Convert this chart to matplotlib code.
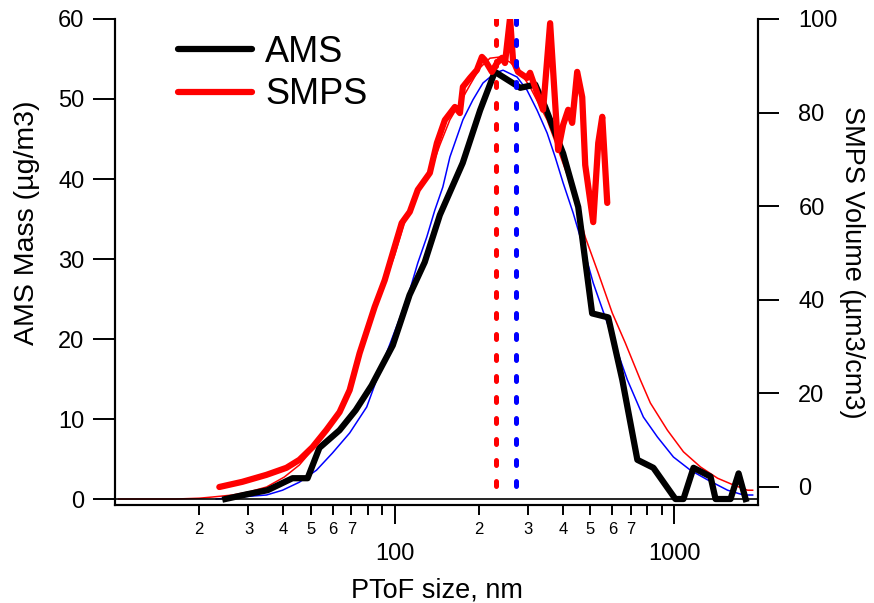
import numpy as np
import matplotlib
matplotlib.use("Agg")
from matplotlib import pyplot as plt
from matplotlib.ticker import FixedLocator, FixedFormatter

plt.rcParams['font.family'] = ['Liberation Sans', 'DejaVu Sans']

# AMS mass distribution (left axis)
ams_size = [24.8, 29.7, 35.1, 43.1, 48.8, 53.8, 63.5, 72.5, 82.7, 98.4, 113, 128, 145, 175, 202,
            228, 281, 318, 345, 400, 453, 508, 580, 651, 737, 841, 1008, 1077, 1170, 1346, 1403,
            1587, 1696, 1797]
ams_mass = [0, 0.6, 1.1, 2.6, 2.6, 6.4, 8.6, 11.1, 14.2, 19.2, 25.5, 29.6, 35.5, 42.0, 48.6,
            53.4, 51.4, 51.8, 49.0, 43.2, 36.5, 23.2, 22.7, 14.9, 4.9, 3.9, 0, 0, 3.9, 2.8, 0,
            0, 3.2, 0]

# SMPS volume distribution (right axis)
smps_size = [23.6, 28.5, 34.8, 41.0, 45.6, 50.8, 57.0, 63.5, 69.0, 74.9, 84.8, 92.1, 98.4, 105.9,
             113.2, 120.9, 128.1, 133.5, 141.5, 151.1, 164.1, 171.0, 175.3, 185.8, 196.7, 205.0,
             210.2, 222.6, 232.0, 241.8, 247.9, 258.4, 264.8, 276.0, 297.2, 304.7, 322.8, 339.2,
             359.4, 383.9, 400.1, 417.0, 430.9, 449.1, 468.1, 479.8, 512.5, 534.1, 552.0, 575.2]
smps_vol = [0, 1.1, 2.6, 4.1, 5.8, 8.5, 12.2, 16.0, 20.7, 28.6, 38.5, 44.2, 50.0, 56.4,
            58.8, 63.5, 65.6, 67.1, 73.5, 78.4, 81.2, 79.9, 85.5, 87.4, 89.1, 91.9,
            91.2, 88.7, 90.6, 91.7, 90.6, 100.2, 91.2, 88.7, 87.4, 88.5, 84.2, 80.6,
            99.1, 72.0, 77.4, 80.6, 77.8, 88.7, 83.3, 68.8, 56.6, 73.5, 79.1, 60.7]

# SMPS-derived mass curve (thin red, left axis)
smps_mass_size = [10.3, 16.5, 20.0, 22.3, 26.3, 30.2, 34.8, 40.3, 45.6, 52.5, 59.9, 69.0, 74.9,
                  84.8, 92.1, 100, 108.6, 120.9, 133.5, 145.0, 157.5, 171.0, 185.8, 201.7, 219,
                  237.8, 258.4, 280.6, 304.7, 350.6, 380.8, 423.9, 452.7, 479.8, 534.1, 599.5,
                  667.5, 755.2, 820.3, 943.9, 1077, 1240, 1426, 1627, 1826, 1904]
smps_mass = [0, 0, 0.1, 0.25, 0.5, 0.9, 1.5, 2.75, 4.25, 6.75, 9.5, 13.6, 18.0,
             23.6, 27.0, 30.5, 34.6, 38.4, 40.75, 44.25, 47.4, 49.5, 51.75, 53.9, 55.1,
             55.25, 54.6, 53.4, 51.5, 47.4, 44.0, 39.5, 36.1, 32.75, 28.25, 23.25,
             19.5, 14.9, 12.0, 8.6, 5.9, 4.0, 2.6, 1.75, 1.1, 1.1]

# fitted AMS curve (thin blue, left axis)
fit_size = [23.0, 27.8, 34.8, 39.7, 45.6, 52.5, 59.9, 69.0, 79.4, 90.6, 104.2, 113.2, 120.9, 130.2,
            139.1, 148.6, 157.5, 175.3, 190.4, 206.8, 228.3, 243.9, 273.7, 297.2, 322.8, 350.6,
            374.6, 400.1, 434.5, 471.8, 512.5, 575.2, 640.5, 678.7, 774.3, 869.4, 991.8, 1141,
            1313, 1549, 1767, 1904]
fit_mass = [0, 0.25, 0.5, 1.1, 2.1, 3.6, 5.75, 8.25, 11.5, 17.0, 22.6, 26.1, 29.5, 32.75,
            36.1, 39.0, 42.75, 47.4, 49.9, 52.0, 53.25, 53.6, 52.75, 51.1, 48.6, 45.75,
            42.75, 39.5, 35.75, 31.5, 27.0, 22.0, 17.4, 14.9, 10.25, 7.75, 5.25, 3.6,
            2.4, 1.1, 0.5, 0.5]

# mode diameters (dotted markers)
mode_smps = 230
mode_ams = 271.5

fig = plt.figure(figsize=(8.74, 6.03), dpi=100)
ax = fig.add_axes([0.1316, 0.1625, 0.7357, 0.806])
ax2 = ax.twinx()

ax.plot(smps_mass_size, smps_mass, color='red', lw=1.1)
ax.plot(fit_size, fit_mass, color='blue', lw=1.1)
ams_line, = ax.plot(ams_size, ams_mass, color='black', lw=4.5, solid_joinstyle='round')
ax.axhline(0, color='black', lw=1.2)

smps_line, = ax2.plot(smps_size, smps_vol, color='red', lw=4.5, solid_joinstyle='round',
                      solid_capstyle='round')
for xm, c in [(mode_smps, 'red'), (mode_ams, 'blue')]:
    ax2.axvline(xm, ymin=1.0, ymax=0.012, color=c, lw=3.6, linestyle=(0, (1, 3.2)),
                dash_capstyle='round')

ax.set_xscale('log')
ax.set_xlim(10, 1990)
ax.set_ylim(-0.75, 60)
ax2.set_ylim(-3.85, 100)

for a in (ax, ax2):
    a.spines['top'].set_visible(False)
    for s in a.spines.values():
        s.set_linewidth(1.5)

ax.set_yticks(np.arange(0, 61, 10))
ax2.set_yticks(np.arange(0, 101, 20))
ax.tick_params(axis='y', direction='out', length=16, width=1.4, labelsize=17, pad=6)
ax2.tick_params(axis='y', direction='out', length=15, width=1.4, labelsize=17, pad=14)

ax.xaxis.set_major_locator(FixedLocator([100, 1000]))
ax.xaxis.set_major_formatter(FixedFormatter(['100', '1000']))
minor = [m * d for d in (10, 100, 1000) for m in range(2, 10) if m * d < 1990]
minor_lab = [str(v)[0] if (v < 1000 and int(str(v)[0]) <= 7) else '' for v in minor]
ax.xaxis.set_minor_locator(FixedLocator(minor))
ax.xaxis.set_minor_formatter(FixedFormatter(minor_lab))
ax.tick_params(axis='x', which='major', direction='out', length=14, width=1.4, labelsize=17, pad=13)
ax.tick_params(axis='x', which='minor', direction='out', length=7, width=1.4, labelsize=12, pad=5)

ax.set_xlabel('PToF size, nm', fontsize=19.5)
ax.set_ylabel('AMS Mass (µg/m3)', fontsize=20.5)
ax2.set_ylabel('SMPS Volume (µm3/cm3)', fontsize=19.5, rotation=270)
ax.yaxis.set_label_coords(-0.117, 0.58)
ax2.yaxis.set_label_coords(1.166, 0.5)
ax.xaxis.set_label_coords(0.5, -0.15)

leg = ax2.legend([ams_line, smps_line], ['AMS', 'SMPS'], loc='upper left',
                 bbox_to_anchor=(0.098, 0.968), frameon=False, fontsize=26,
                 handlelength=2.05, handletextpad=0.36, labelspacing=0.22,
                 borderpad=0, borderaxespad=0)
for h in leg.get_lines():
    h.set_linewidth(4.5)
    h.set_solid_capstyle('round')

fig.savefig('out.png', dpi=100)
